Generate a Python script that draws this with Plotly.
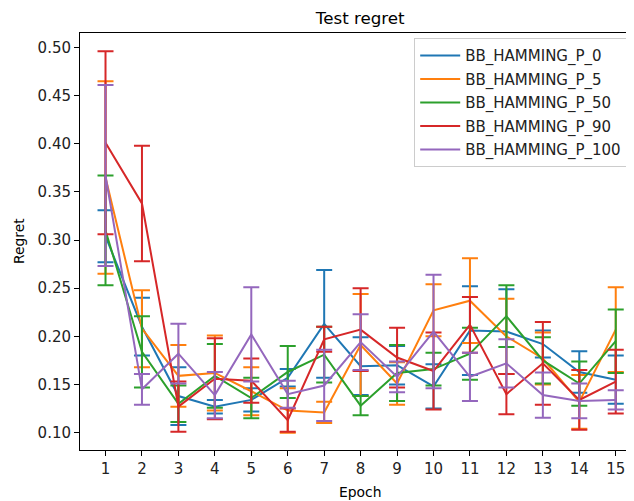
import plotly.graph_objects as go

epochs = list(range(1, 16))
series_names = ["BB_HAMMING_P_0", "BB_HAMMING_P_5", "BB_HAMMING_P_50", "BB_HAMMING_P_90", "BB_HAMMING_P_100"]

p0_mean = [0.304, 0.210, 0.138, 0.127, 0.134, 0.157, 0.213, 0.169, 0.170, 0.148, 0.206, 0.205, 0.192, 0.163, 0.155]
p0_err = [0.027, 0.030, 0.030, 0.007, 0.012, 0.009, 0.056, 0.030, 0.020, 0.023, 0.046, 0.044, 0.014, 0.0215, 0.025]

p5_mean = [0.365, 0.208, 0.159, 0.162, 0.143, 0.123, 0.121, 0.191, 0.151, 0.227, 0.237, 0.200, 0.177, 0.132, 0.207]
p5_err = [0.100, 0.040, 0.032, 0.039, 0.025, 0.023, 0.011, 0.053, 0.022, 0.027, 0.044, 0.039, 0.027, 0.028, 0.044]

p50_mean = [0.310, 0.184, 0.130, 0.159, 0.136, 0.163, 0.181, 0.128, 0.162, 0.166, 0.182, 0.221, 0.175, 0.151, 0.195]
p50_err = [0.057, 0.037, 0.019, 0.033, 0.021, 0.027, 0.029, 0.010, 0.029, 0.017, 0.027, 0.032, 0.024, 0.023, 0.033]

p90_mean = [0.401, 0.338, 0.127, 0.156, 0.154, 0.113, 0.197, 0.207, 0.178, 0.164, 0.212, 0.140, 0.172, 0.134, 0.153]
p90_err = [0.095, 0.060, 0.026, 0.042, 0.023, 0.012, 0.013, 0.043, 0.031, 0.040, 0.029, 0.021, 0.043, 0.031, 0.033]

p100_mean = [0.367, 0.145, 0.182, 0.139, 0.202, 0.140, 0.149, 0.194, 0.158, 0.205, 0.158, 0.172, 0.139, 0.133, 0.134]
p100_err = [0.094, 0.016, 0.031, 0.024, 0.049, 0.014, 0.037, 0.029, 0.016, 0.059, 0.025, 0.025, 0.0235, 0.018, 0.010]

y_ticks = [0.10, 0.15, 0.20, 0.25, 0.30, 0.35, 0.40, 0.45, 0.50]
colors = ["#1f77b4", "#ff7f0e", "#2ca02c", "#d62728", "#9467bd"]

means = [p0_mean, p5_mean, p50_mean, p90_mean, p100_mean]
errs = [p0_err, p5_err, p50_err, p90_err, p100_err]

FONT = "DejaVu Sans"
fig = go.Figure()
for name, m, e, c in zip(series_names, means, errs, colors):
    fig.add_trace(go.Scatter(
        x=epochs, y=m, name=name, mode="lines", legendgroup=name,
        line=dict(color=c, width=2),
        error_y=dict(type="data", array=e, visible=True, color=c, thickness=2, width=8),
    ))

# The page body adds an 8px offset; the figure is sized/positioned to compensate.
W, H = 626, 493
L, T = 71.5, 24.7
PB = 442  # plot bottom in figure px
B = H - PB
PW = W - L
PH = PB - T
fig.update_layout(
    width=W, height=H,
    margin=dict(l=L, r=0, t=T, b=B, pad=0),
    paper_bgcolor="white", plot_bgcolor="white",
    font=dict(family=FONT, size=15, color="black"),
    showlegend=True,
    legend=dict(
        x=(406 - L) / PW, y=(PB - 30) / PH, xanchor="left", yanchor="top",
        bgcolor="rgba(255,255,255,0.8)", bordercolor="#cccccc", borderwidth=1,
        font=dict(family=FONT, size=15, color="#222222"),
        tracegroupgap=1, itemwidth=40,
    ),
    title=dict(text="Test regret", x=(352 - L) / PW, xref="paper", xanchor="center",
               y=1 - 10.5 / H, yanchor="middle", font=dict(family=FONT, size=16.7, color="black")),
)
fig.update_xaxes(
    range=[0.3, 1 + (634 - 105) / 36.48],
    tickmode="array", tickvals=epochs, ticktext=[str(v) for v in epochs],
    ticks="outside", ticklen=5, tickwidth=1, tickcolor="black",
    tickfont=dict(family=FONT, size=15, color="#222222"),
    showline=True, linecolor="black", linewidth=1, mirror=True,
    showgrid=False, zeroline=False,
)
fig.update_yaxes(
    range=[0.082, 0.515],
    tickmode="array", tickvals=y_ticks, ticktext=[f"{v:.2f}" for v in y_ticks],
    ticks="outside", ticklen=5, tickwidth=1, tickcolor="black",
    tickfont=dict(family=FONT, size=15, color="#222222"),
    showline=True, linecolor="black", linewidth=1,
    showgrid=False, zeroline=False,
)
fig.add_annotation(text="Epoch", x=(352 - L) / PW, y=-(484 - PB) / PH,
                   xref="paper", yref="paper", showarrow=False, xanchor="center", yanchor="middle",
                   font=dict(family=FONT, size=13.9, color="black"))
fig.add_annotation(text="Regret", x=-(L - 10) / PW, y=0.5, textangle=-90,
                   xref="paper", yref="paper", showarrow=False, xanchor="center", yanchor="middle",
                   font=dict(family=FONT, size=13.9, color="black"))

fig.write_html("out.html")
